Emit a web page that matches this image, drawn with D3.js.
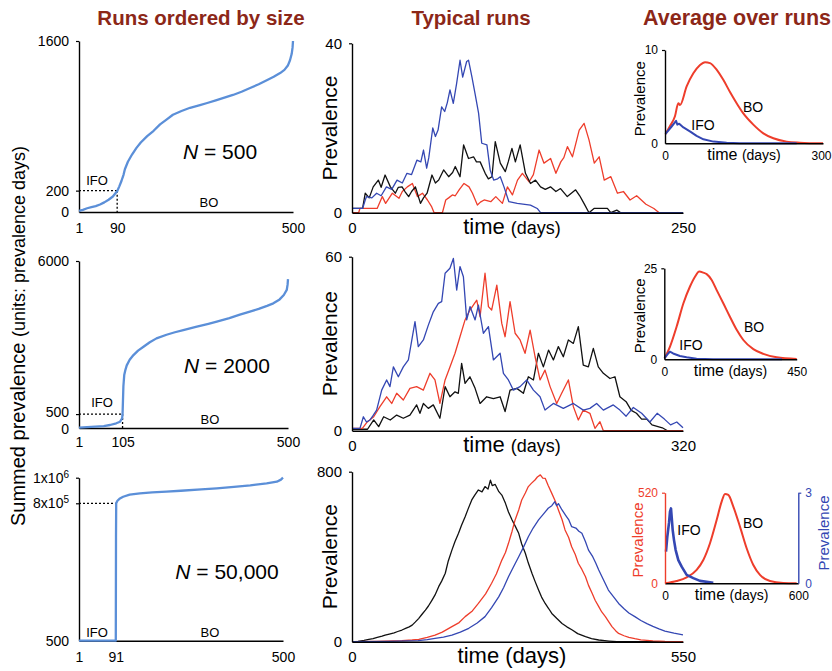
<!DOCTYPE html>
<html><head><meta charset="utf-8">
<script src="https://cdn.jsdelivr.net/npm/d3@7"></script>
<style>body{margin:0;background:#fff}svg{display:block}</style>
</head><body>
<script>
// ---------- DATA ----------
const columnTitles = ["Runs ordered by size", "Typical runs", "Average over runs"];
const popLabels = ["500", "2000", "50,000"];

// Runs ordered by size: [run rank, summed prevalence]
const sorted500 = [[1,10],[10,20],[20,35],[30,45],[40,55],[50,70],[60,90],[70,115],[80,145],[86,175],[90,195],[95,240],[100,290],[105,350],[108,400],[115,470],[125,540],[135,600],[145,650],[160,710],[175,760],[190,820],[205,865],[220,910],[240,945],[260,975],[283,1000],[300,1020],[320,1045],[340,1070],[360,1095],[380,1125],[400,1160],[420,1195],[440,1235],[455,1265],[470,1300],[480,1330],[488,1370],[493,1420],[497,1480],[499,1540],[500,1600]];
const sorted2000 = [[1,15],[20,30],[40,50],[60,70],[75,108],[90,170],[99,226],[104,350],[105,500],[106,1000],[107,1500],[109,1900],[112,2100],[115,2250],[122,2450],[131,2620],[142,2780],[155,2920],[170,3080],[186,3220],[210,3350],[230,3440],[250,3520],[280,3630],[310,3740],[330,3820],[360,3950],[385,4070],[409,4180],[430,4280],[450,4390],[465,4480],[480,4620],[490,4780],[497,4960],[499,5150],[500,5350]];
const sorted50000 = [[1,500],[91,500],[91.5,600000],[92,800000],[95,820000],[100,835000],[109,851000],[125,868000],[150,878000],[180,885000],[215,891000],[250,898000],[300,908000],[338,917000],[380,928000],[420,940000],[460,956000],[485,969000],[495,985000],[500,1000000]];
const ticksX500 = [1, 90, 500], ticksY500 = [0, 200, 1600];
const ticksX2000 = [1, 105, 500], ticksY2000 = [0, 500, 6000];
const ticksX50000 = [1, 91, 500], ticksY50000 = [500, 800000, 1000000];

// Typical runs: [day, prevalence]
const run500Blue = [[0,1],[8,1],[10,3],[11,3.8],[15,3.5],[18.6,4.6],[22,4],[26,6.1],[30,5.5],[34,7.7],[38,7],[41.5,9.3],[45,9],[49,12.4],[52,12],[54,14.8],[56.4,10.5],[58,13],[61,20],[63,18],[65,19.5],[67.7,25],[70,23.9],[72,26],[74,29],[76.5,25.8],[79,30.5],[81.6,36],[83.6,32],[86.6,35.7],[88,36],[90.6,32],[93,28],[95.6,23.5],[98,16.4],[101.9,16],[104.4,10],[107,7.7],[110,8],[112,8.5],[114.8,6.1],[118.5,2.6],[124.8,2.2],[134.8,1.8],[139.9,1],[142.4,0],[250,0]];
const run500Black = [[0,1],[8,1],[10,4.6],[13,3.5],[16,6.1],[19.9,7.7],[22,6],[25,8.9],[29,6.1],[32.7,4.6],[35,6],[37.8,6.1],[40,5],[42.8,3.8],[45,5],[47.9,6.1],[51.7,2.2],[54,3.5],[56.7,4.6],[60.4,8.9],[63,7],[65.5,7.7],[69.2,10.1],[73,8.5],[76,9.5],[78,10.9],[81.6,8.5],[84.3,16],[88,12.8],[91.8,13.2],[94,12],[96.8,12],[100.6,9.3],[103,8],[105.7,8.5],[108.2,16.8],[112,11.7],[115.8,9.7],[118,12],[120.8,15.2],[123.4,12],[127,16],[131,9.3],[134.8,6.9],[138.6,7.7],[142.4,6.1],[146,5.5],[149.9,6.1],[154,5],[157.5,5.7],[162.6,3.8],[168.9,5.4],[172,4],[175.2,2.2],[179,0],[182.8,1],[192.9,1],[195.4,0],[200,0.6],[203,0],[250,0]];
const run500Red = [[0,0],[5,0],[6,1],[19,1],[22.9,3.8],[25.4,2.2],[30.5,4.6],[33,4],[35.5,3.4],[38,5],[41.8,6.1],[45.6,6.9],[49.4,3.8],[53.2,4.6],[57,3],[60,1.5],[62,0],[68.3,0],[70.8,3],[73,3.5],[75.8,4.2],[78,4],[80.9,5.4],[84.6,6.9],[88.4,6.1],[91,4.6],[94.7,1.8],[97,2.5],[99.8,3],[104.8,2.6],[108.6,3.8],[113.6,2.2],[117.4,6.1],[121.2,4.2],[125,7.7],[128.7,9.3],[133.8,7.3],[137,9],[141.3,14.8],[145,11.7],[150,12.8],[154,9.3],[157.7,12],[160,13],[162.7,15.6],[166.5,13.2],[171.6,19.5],[175.3,21.1],[179,17.2],[183,11.7],[186.7,13.2],[190.5,7.7],[195.5,8.5],[200.5,4.6],[205,5],[210,3],[215,4],[222,2],[228,1],[232,0],[250,0]];

const run2000Blue = [[0,0.8],[7.7,0.8],[11,4.8],[14,3],[17.4,3.7],[20,5],[23.8,7.1],[28.7,14],[33.5,17.5],[36.7,15.2],[40,22],[44.8,18.6],[49.6,22],[54.5,24.4],[60.9,37.6],[64.1,29],[69,31.3],[73.8,36.4],[78.6,41],[83.5,43.9],[86.7,44.5],[90,54.3],[94.7,56],[98,59.4],[101.2,48.5],[104.4,56.6],[107.7,53.1],[110.9,38.2],[114.1,42.8],[119,38.2],[122.2,43.3],[127,33.6],[131.9,35.9],[136.7,24.4],[143.2,26.7],[146.4,19.8],[151.2,17.5],[156,14],[162.5,15.2],[168.9,17.5],[175.4,14],[181.8,11.7],[186.6,7.1],[194.7,9.4],[204.3,7.7],[214,9.4],[223.6,7.1],[230,7.7],[236.5,9.4],[243,7.1],[252.6,8.9],[259,7.1],[265,5],[272,8],[280,6],[288,3],[295,6],[302,4],[308,2],[314,3],[320,1]];
const run2000Red = [[0,0.8],[10,0.8],[14.2,2.8],[21,4.8],[27,8.3],[33.5,11.7],[38.4,9.4],[43.2,12.9],[49.6,10.6],[56,14.6],[62.5,15.2],[69,14],[75.4,19.8],[80.2,17.5],[85,9.4],[90,17.5],[94.7,22],[99.6,26.7],[104.4,32.4],[109.3,38.2],[114,41.6],[120.6,45],[123.8,39.3],[128.6,54.3],[131.9,42.8],[135,41.6],[140,50.2],[144.8,37],[148,32.4],[152.8,44.5],[157.7,33.6],[162.5,31.3],[167.3,26.7],[172.2,34.7],[177,25.5],[181.8,17.5],[186.6,20.9],[191.5,15.2],[197.9,9.4],[202.7,12.9],[209.2,17.5],[214,8.3],[218.8,3.7],[223.6,7.1],[230,6],[234.9,0.8],[239.7,3.1],[243,0],[320,0]];
const run2000Black = [[0,0.5],[15,0.5],[21,3.7],[25.8,1.4],[30.6,4.8],[37,3.7],[43.2,5.4],[49.6,4.3],[56,5.4],[62.5,8.9],[65.7,6],[69,9.4],[73.8,7.7],[78.6,8.9],[85,4.3],[90,15.2],[94.7,11.7],[99.6,13.4],[102.8,12.9],[106,23.2],[109.3,16.3],[114,18.6],[119,14.6],[123.8,9.4],[130.2,11.7],[136.7,11.1],[143.2,11.7],[148,6.6],[152.8,14],[159.3,14.6],[165.7,12.9],[170.5,18.6],[175.4,17.5],[180.2,26.7],[185,22],[190,27.8],[194.7,24.4],[199.5,29],[204.3,25.5],[209.2,31.3],[214,30.1],[218.8,35.9],[223.6,22.6],[228.5,22],[233.3,28.4],[238.1,22],[243,19.8],[249.4,18],[254.2,18.6],[259,11.7],[265,10],[270,7],[275,6],[280,4],[285,4],[290,2],[300,1],[305,0],[320,0]];

const run50000Black = [[0,0],[10,2],[20,6],[28,11],[35,14],[42,20],[50,26],[55,31],[62,36],[70,42],[76,48],[83,55],[90,64],[95,70],[100,78],[105,92],[111,110],[116,128],[122,149],[127,168],[133,196],[138,220],[144,259],[149,285],[155,322],[160,380],[166,431],[171,470],[177,510],[182,548],[188,588],[193,625],[199,667],[204,690],[210,714],[216,705],[221,730],[226,718],[230,760],[233,735],[238,740],[244,706],[249,690],[255,651],[260,610],[266,573],[271,545],[277,510],[282,460],[288,416],[293,370],[299,322],[304,285],[310,243],[315,210],[321,180],[327,155],[332,133],[340,110],[349,86],[357,70],[366,55],[375,38],[388,24],[398,14],[410,8],[420,5],[427,3],[440,0],[550,0]];
const run50000Red = [[0,0],[40,2],[83,5],[100,8],[111,11],[125,20],[138,31],[150,45],[166,71],[178,90],[188,118],[200,145],[210,180],[222,225],[232,275],[240,320],[249,384],[255,420],[260,463],[266,520],[271,573],[277,620],[282,667],[288,700],[293,730],[298,745],[304,761],[308,775],[313,785],[317,770],[321,769],[326,735],[332,698],[338,660],[343,620],[349,575],[354,526],[360,490],[365,447],[371,410],[376,369],[382,340],[388,306],[393,265],[399,228],[404,195],[410,165],[415,140],[421,118],[427,92],[432,71],[438,52],[443,39],[452,28],[460,20],[470,14],[480,9],[500,4],[520,1],[540,0],[550,0]];
const run50000Blue = [[0,0],[60,2],[110,5],[125,10],[138,16],[152,22],[166,31],[180,45],[194,63],[208,88],[221,118],[232,160],[244,212],[252,255],[260,306],[268,350],[277,400],[285,445],[293,494],[301,535],[310,573],[318,600],[326,628],[332,640],[337,659],[340,640],[343,650],[349,620],[355,595],[360,575],[365,541],[372,535],[377,520],[382,510],[388,470],[393,431],[400,400],[405,370],[410,337],[418,290],[426,243],[435,210],[443,180],[452,155],[460,135],[470,118],[480,100],[490,85],[500,72],[510,60],[520,50],[535,40],[550,32]];

// Average over runs: [day, prevalence]
const avg500BO = [[1,1.0],[9,1.8],[18.9,2.9],[25.3,4.3],[28.5,4.1],[41.1,6.1],[53.8,7.5],[66.5,8.4],[76,8.7],[85.4,8.6],[98,7.9],[110.7,6.8],[123.4,5.5],[136,4.3],[148.7,3.2],[167.7,2.0],[186.7,1.07],[205.7,0.54],[231,0.18],[256,0.07],[300,0]];
const avg500IFO = [[1,1.0],[12.6,1.8],[21,2.4],[23.4,2.0],[27,2.1],[35,1.7],[48,1.25],[60,0.8],[73,0.43],[92,0.18],[117,0.07],[142,0],[250,0]];
const avg2000BO = [[1,0.3],[19.4,3.5],[42,9],[65,15.4],[87.3,20],[104.3,22.7],[119,24.1],[132.6,23.8],[144,23.4],[161,21.8],[178,19],[200.5,15.4],[223,11.7],[246,8.1],[268.6,5.3],[302.6,2.8],[336.6,1.5],[382,0.55],[450,0.1]];
const avg2000IFO = [[1,0.3],[13.3,1.6],[19,2.1],[30,1.6],[53,0.9],[75.8,0.55],[109.8,0.18],[166,0],[400,0]];
const avg50000BO = [[0,0],[52.5,13],[97.5,34],[142.5,77],[172.5,134],[202.5,230],[232.5,363],[255,469],[270,513],[285,507],[307.5,440],[337.5,325],[367.5,201],[397.5,105],[427.5,48],[472.5,13],[532.5,2],[592.5,0]];
const avg50000IFO = [[4.5,1.05],[10.5,1.55],[18,2.0],[22.5,2.37],[27,2.48],[30,2.2],[34.5,1.77],[40.5,1.43],[48,1.1],[60,0.77],[75,0.55],[97.5,0.28],[127.5,0.17],[157.5,0.08],[217.5,0.02]];

// ---------- DRAWING ----------
const FONT = "'Liberation Sans', Arial, Helvetica, sans-serif";
const RED = "#ee3d2b", BLUE = "#3447b3", BLACK = "#111", CURVE = "#5b8fd8", TITLE = "#8c2718";
const svg = d3.select("body").append("svg").attr("width", 832).attr("height", 671)
  .style("font-family", FONT);

function addLine(g, data, x, y, color, w, curve) {
  g.append("path").datum(data).attr("fill", "none").attr("stroke", color)
    .attr("stroke-width", w).attr("stroke-linejoin", "round")
    .attr("d", d3.line().curve(curve || d3.curveLinear).x(d => x(d[0])).y(d => y(d[1])));
}
function styleAxis(sel, size, color) {
  color = color || "#000";
  sel.attr("font-family", FONT);
  sel.select(".domain").attr("stroke", color).attr("stroke-width", 1.4);
  sel.selectAll(".tick line").attr("stroke", color).attr("stroke-width", 1.2);
  sel.selectAll(".tick text").attr("font-size", size).attr("fill", color);
}
function xAxis(x, y0, ticks, pad, size, fmt) {
  const g = svg.append("g").attr("transform", `translate(0,${y0})`)
    .call(d3.axisBottom(x).tickValues(ticks).tickSize(0).tickSizeOuter(0).tickPadding(pad).tickFormat(fmt || d3.format("d")));
  styleAxis(g, size);
  return g;
}
function yAxis(y, x0, ticks, pad, size, color, fmt, right) {
  const ax = (right ? d3.axisRight(y) : d3.axisLeft(y)).tickValues(ticks).tickSize(3).tickSizeOuter(0).tickPadding(pad).tickFormat(fmt || d3.format("d"));
  const g = svg.append("g").attr("transform", `translate(${x0},0)`).call(ax);
  styleAxis(g, size, color);
  g.selectAll(".tick").filter(d => d === ticks[0]).select("line").remove();
  return g;
}
function text(x, y, str, size, opts) {
  opts = opts || {};
  const t = svg.append("text").attr("x", x).attr("y", y).attr("font-size", size)
    .attr("text-anchor", opts.anchor || "middle").attr("fill", opts.color || "#000");
  if (str) t.text(str);
  if (opts.bold) t.attr("font-weight", "bold");
  if (opts.rotate) t.attr("transform", `rotate(-90,${x},${y})`);
  return t;
}

// Column titles
text(201, 25, columnTitles[0], 20.5, {bold: true, color: TITLE});
text(471, 25, columnTitles[1], 20.5, {bold: true, color: TITLE});
text(643, 25, columnTitles[2], 21.5, {bold: true, color: TITLE, anchor: "start"});

// Shared y title (left column)
const yt = text(25, 336, "", 20, {rotate: true});
yt.append("tspan").text("Summed prevalence ");
yt.append("tspan").attr("font-size", 18).text("(units: prevalence days)");

// ---- Left column ----
function leftPanel(data, xr, yScale, xt, yt, xPad, fmtY, nText, nPos, ifo, bo, dotted) {
  const x = d3.scaleLinear().domain([1, 500]).range(xr);
  const y0 = yScale.range()[0];
  xAxis(x, y0, xt, xPad, 14);
  const ya = yAxis(yScale, xr[0], yt, 7, 14, null, fmtY);
  const thr = xt[1], val = yt[1];
  svg.append("line").attr("x1", x(1)).attr("x2", x(thr)).attr("y1", yScale(val)).attr("y2", yScale(val))
    .attr("stroke", "#000").attr("stroke-width", 1.3).attr("stroke-dasharray", "2,2");
  if (dotted) svg.append("line").attr("x1", x(thr)).attr("x2", x(thr)).attr("y1", yScale(val)).attr("y2", y0)
    .attr("stroke", "#000").attr("stroke-width", 1.3).attr("stroke-dasharray", "2,2");
  addLine(svg, data, x, yScale, CURVE, 2.3);
  const nt = text(nPos[0], nPos[1], "", 21);
  nt.append("tspan").attr("font-style", "italic").text("N");
  nt.append("tspan").text(" = " + nText);
  text(ifo[0], ifo[1], "IFO", 13);
  text(bo[0], bo[1], "BO", 13);
  return ya;
}
leftPanel(sorted500, [79, 293], d3.scaleLinear().domain([0, 1600]).range([212, 41]),
  ticksX500, ticksY500, 11, null, popLabels[0], [220, 159], [97, 185], [209, 207], true);
const ya2 = leftPanel(sorted2000, [79, 288], d3.scaleLinear().domain([0, 6000]).range([428, 261]),
  ticksX2000, ticksY2000, 9, null, popLabels[1], [227, 373], [102, 407], [210, 424], true);
ya2.selectAll(".tick text").attr("dy", d => d === 500 ? "0.2em" : d === 0 ? "0.4em" : "0.32em");
const ya3 = leftPanel(sorted50000, [79, 283], d3.scaleLinear().domain([500, 800000, 1000000]).range([640.7, 503.3, 477.7]),
  ticksX50000, ticksY50000, 11, d => "", popLabels[2], [227, 579], [97, 637], [210, 637], false);
ya3.selectAll(".tick text").each(function(d) {
  const t = d3.select(this);
  if (d === 500) { t.text("500"); return; }
  const mant = d === 1000000 ? "1" : "8";
  const exp = d === 1000000 ? "6" : "5";
  t.append("tspan").text(mant + "x10");
  t.append("tspan").attr("font-size", 10).attr("dy", "-0.5em").text(exp);
});

// ---- Middle column ----
function midPanel(series, xMax, yMax, yr, fullSize) {
  const x = d3.scaleLinear().domain([0, xMax]).range([352, 683]);
  const y = d3.scaleLinear().domain([0, yMax]).range(yr);
  series.forEach(s => addLine(svg, s[0], x, y, s[1], 1.3));
  xAxis(x, yr[0], [0, xMax], 10, 15);
  yAxis(y, 352, [0, yMax], 7, 15);
  text(337, (yr[0] + yr[1]) / 2, "Prevalence", 21, {rotate: true});
  const tt = text(512, yr[0] + 21, "", 22);
  tt.append("tspan").text("time ");
  tt.append("tspan").attr("font-size", fullSize ? 22 : 18).text("(days)");
}
midPanel([[run500Red, RED], [run500Black, BLACK], [run500Blue, BLUE]], 250, 40, [212.7, 43.3], false);
midPanel([[run2000Black, BLACK], [run2000Red, RED], [run2000Blue, BLUE]], 320, 60, [430.7, 256.7], false);
midPanel([[run50000Black, BLACK], [run50000Red, RED], [run50000Blue, BLUE]], 550, 800, [641.7, 471.7], true);

// ---- Right column ----
function rightPanel(bo, ifo, xr, xMax, yr, yMax, boPos, ifoPos, dual) {
  const x = d3.scaleLinear().domain([0, xMax]).range(xr);
  const y = d3.scaleLinear().domain([0, yMax]).range(yr);
  const y2 = d3.scaleLinear().domain([0, 3]).range(yr);
  addLine(svg, bo, x, y, RED, 2, d3.curveMonotoneX);
  addLine(svg, ifo, x, dual ? y2 : y, BLUE, dual ? 2.6 : 2);
  const xa = xAxis(x, yr[0], [0, xMax], 8, 12);
  if (x(xMax) + 10 > 832) xa.selectAll(".tick text").filter(d => d === xMax).attr("text-anchor", "end").attr("x", 832 - x(xMax) - 1);
  yAxis(y, xr[0], [0, yMax], 4, 12, dual ? RED : null);
  if (dual) yAxis(y2, xr[1], [0, 3], 4, 12, BLUE, null, true);
  const cy = (yr[0] + yr[1]) / 2;
  text(dual ? 643 : 645, cy + 2, "Prevalence", 15, {rotate: true, color: dual ? RED : "#000"});
  if (dual) text(829, cy - 5, "Prevalence", 15, {rotate: true, color: BLUE});
  const tt = text((xr[0] + xr[1]) / 2, yr[0] + 17, "", 16);
  tt.append("tspan").text("time ");
  tt.append("tspan").attr("font-size", 14).text("(days)");
  text(boPos[0], boPos[1], "BO", 14);
  text(ifoPos[0], ifoPos[1], "IFO", 14);
}
rightPanel(avg500BO, avg500IFO, [665, 823], 300, [143.3, 50], 10, [753, 112], [703, 130], false);
rightPanel(avg2000BO, avg2000IFO, [664.3, 796.7], 450, [359.3, 268.3], 25, [754, 332], [691, 350], false);
rightPanel(avg50000BO, avg50000IFO, [665, 798.3], 600, [583.3, 492.7], 520, [753, 528], [689, 535], true);
</script>
</body></html>
